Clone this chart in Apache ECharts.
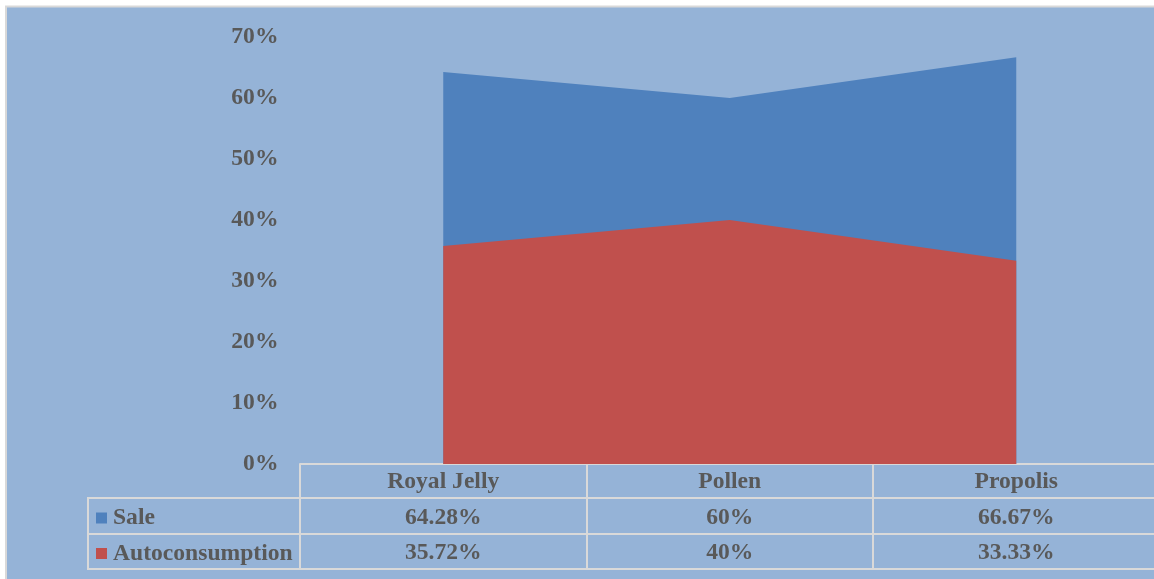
<!DOCTYPE html>
<html>
<head>
<meta charset="utf-8">
<title>Sale and Autoconsumption by Product</title>
<script src="https://cdn.jsdelivr.net/npm/echarts@6/dist/echarts.min.js"></script>
<style>
  html, body { margin: 0; padding: 0; background: #ffffff; overflow: hidden; }
  /* the chart frame runs past the right edge of the page */
  #chart { width: 1170px; height: 579px; }
</style>
</head>
<body>
<div id="chart"></div>
<script>
// Products on the category axis
const categories = ['Royal Jelly', 'Pollen', 'Propolis'];
// Shares per product, in percent
const saleValues = [64.28, 60, 66.67];
const autoValues = [35.72, 40, 33.33];
// Y axis range and step, in percent
const yTicks = { min: 0, max: 70, step: 10 };

const FONT = "'Liberation Serif', 'Times New Roman', serif";
const TEXT = '#595959';
const RULE = '#D9D9D9';
const BG = '#95B3D7';
const SALE_COLOR = '#4F81BD';
const AUTO_COLOR = '#C0504D';

const labelFont = { fontFamily: FONT, fontWeight: 'bold', fontSize: 23.6, color: TEXT };
const pct = v => v + '%';

// Data-table layout (pixels)
const tableLeft = 88;
const rowLines = [498, 534, 569];

const chart = echarts.init(document.getElementById('chart'), null, { renderer: 'canvas' });

function rowAxis(values, offset) {
  return {
    type: 'category',
    data: values.map(pct),
    position: 'bottom',
    offset: offset,
    boundaryGap: true,
    axisLine: { show: false },
    axisTick: { show: false },
    axisLabel: Object.assign({ interval: 0, margin: 18.5, verticalAlign: 'middle' }, labelFont)
  };
}

function legendRow(name, top) {
  return {
    data: [name],
    orient: 'vertical',
    left: 96,
    top: top,
    padding: 0,
    icon: 'rect',
    itemWidth: 11,
    itemHeight: 11,
    itemGap: 0,
    selectedMode: false,
    textStyle: Object.assign({ padding: [0, 0, 0, 1] }, labelFont)
  };
}

const graphics = [
  {
    type: 'rect', z: -10, silent: true,
    shape: { x: 6, y: 6.5, width: 1200, height: 620 },
    style: { fill: BG, stroke: RULE, lineWidth: 2 }
  },
  {
    type: 'line', z: 10, silent: true,
    shape: { x1: tableLeft, y1: rowLines[0], x2: tableLeft, y2: rowLines[2] },
    style: { stroke: RULE, lineWidth: 2 }
  }
].concat(rowLines.map(y => ({
  type: 'line', z: 10, silent: true,
  shape: { x1: tableLeft - 1, y1: y, x2: 1200, y2: y },
  style: { stroke: RULE, lineWidth: 2 }
})));

chart.setOption({
  animation: false,
  backgroundColor: 'transparent',
  graphic: graphics,
  legend: [legendRow('Sale', 506), legendRow('Autoconsumption', 541.5)],
  grid: { left: 300, top: 37, right: 10.5, bottom: 115, containLabel: false },
  xAxis: [
    {
      type: 'category',
      data: categories,
      position: 'bottom',
      boundaryGap: true,
      axisLine: { show: true, lineStyle: { color: RULE, width: 2 } },
      axisTick: { show: true, length: 105, lineStyle: { color: RULE, width: 2 } },
      axisLabel: Object.assign({ interval: 0, margin: 18, verticalAlign: 'middle' }, labelFont),
      splitLine: { show: false }
    },
    rowAxis(saleValues, 35),
    rowAxis(autoValues, 70)
  ],
  yAxis: {
    type: 'value',
    min: yTicks.min,
    max: yTicks.max,
    interval: yTicks.step,
    axisLine: { show: false },
    axisTick: { show: false },
    splitLine: { show: false },
    axisLabel: Object.assign({ margin: 21.5, formatter: '{value}%' }, labelFont)
  },
  series: [
    {
      name: 'Sale',
      type: 'line',
      xAxisIndex: 0,
      data: saleValues,
      symbol: 'none',
      lineStyle: { width: 0 },
      itemStyle: { color: SALE_COLOR },
      areaStyle: { color: SALE_COLOR, opacity: 1 },
      z: 2
    },
    {
      name: 'Autoconsumption',
      type: 'line',
      xAxisIndex: 0,
      data: autoValues,
      symbol: 'none',
      lineStyle: { width: 0 },
      itemStyle: { color: AUTO_COLOR },
      areaStyle: { color: AUTO_COLOR, opacity: 1 },
      z: 3
    }
  ]
});
</script>
</body>
</html>
